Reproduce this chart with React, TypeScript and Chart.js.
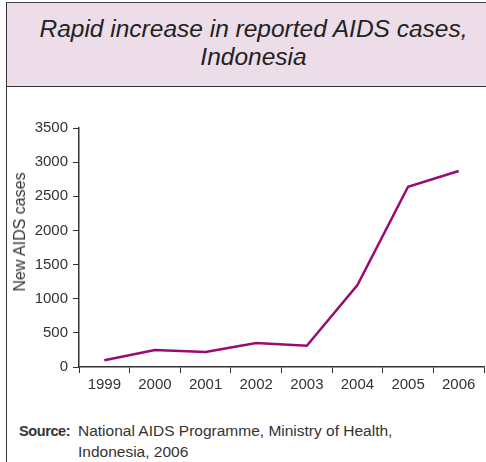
import React, { useEffect, useRef } from "react";
import { Chart, registerables } from "chart.js";

Chart.register(...registerables);

const years = ["1999", "2000", "2001", "2002", "2003", "2004", "2005", "2006"];
const newAidsCases = [100, 250, 220, 350, 310, 1200, 2640, 2870];
const yTicks = [0, 500, 1000, 1500, 2000, 2500, 3000, 3500];
const titleLines = ["Rapid increase in reported AIDS cases,", "Indonesia"];
const yAxisTitle = "New AIDS cases";
const sourceLabel = "Source:";
const sourceLines = ["National AIDS Programme, Ministry of Health,", "Indonesia, 2006"];

const FONT = "'Liberation Sans', Arial, Helvetica, sans-serif";
const NARROW = "'Liberation Sans Narrow', 'Arial Narrow', 'Liberation Sans', sans-serif";
const TEXT = "#333333";
const LINE = "#9b0a70";

export default function App() {
  const canvasRef = useRef<HTMLCanvasElement | null>(null);

  useEffect(() => {
    if (!canvasRef.current) return;
    const chart = new Chart(canvasRef.current, {
      type: "line",
      data: {
        labels: years,
        datasets: [
          {
            data: newAidsCases,
            borderColor: LINE,
            borderWidth: 2.5,
            pointRadius: 0,
            tension: 0,
            fill: false,
          },
        ],
      },
      options: {
        animation: false,
        responsive: false,
        maintainAspectRatio: false,
        layout: { padding: { top: 18, right: 2, left: 0, bottom: 0 } },
        plugins: { legend: { display: false }, tooltip: { enabled: false } },
        scales: {
          x: {
            type: "category",
            offset: true,
            grid: {
              offset: true,
              drawOnChartArea: false,
              drawTicks: true,
              tickLength: 6,
              color: TEXT,
              lineWidth: 1,
            },
            border: { display: true, color: TEXT, width: 1.5 },
            ticks: {
              color: TEXT,
              font: { family: FONT, size: 15 },
              padding: 3,
              maxRotation: 0,
              autoSkip: false,
            },
            afterFit: (axis: any) => {
              axis.height = 33;
            },
          },
          y: {
            min: 0,
            max: 3500,
            afterBuildTicks: (axis: any) => {
              axis.ticks = yTicks.map((v) => ({ value: v }));
            },
            grid: {
              drawOnChartArea: false,
              drawTicks: true,
              tickLength: 6,
              color: TEXT,
              lineWidth: 1,
            },
            border: { display: true, color: TEXT, width: 1.5 },
            ticks: {
              color: TEXT,
              font: { family: FONT, size: 15 },
              padding: 5,
              callback: (v: any) => String(v),
            },
            afterFit: (axis: any) => {
              axis.width = 72;
            },
          },
        },
      },
    });
    return () => chart.destroy();
  }, []);

  return (
    <div
      style={{
        position: "absolute",
        left: 0,
        top: 0,
        width: 486,
        height: 462,
        overflow: "hidden",
        background: "#ffffff",
        fontFamily: FONT,
      }}
    >
      <div
        style={{
          position: "absolute",
          left: 6,
          top: 2,
          width: 494,
          height: 85,
          background: "#ecdde8",
          borderTop: "1.5px solid #444",
          borderLeft: "1.5px solid #333",
          borderBottom: "1.5px solid #333",
          boxSizing: "border-box",
          display: "flex",
          flexDirection: "column",
          alignItems: "center",
          justifyContent: "center",
          fontStyle: "italic",
          fontSize: 24.5,
          lineHeight: "28px",
          color: "#222",
          paddingBottom: 4,
        }}
      >
        {titleLines.map((t, i) => (
          <div key={i}>{t}</div>
        ))}
      </div>
      <div
        style={{
          position: "absolute",
          left: 6,
          top: 87,
          width: 0,
          height: 375,
          borderLeft: "1.5px solid #333",
        }}
      />
      <canvas
        ref={canvasRef}
        width={479}
        height={290}
        style={{ position: "absolute", left: 7, top: 110, width: 479, height: 290 }}
      />
      <div
        style={{
          position: "absolute",
          left: 20,
          top: 232,
          width: 0,
          height: 0,
          overflow: "visible",
        }}
      >
        <div
          style={{
            position: "absolute",
            left: 0,
            top: 0,
            transform: "translate(-50%, -50%) rotate(-90deg)",
            whiteSpace: "nowrap",
            fontSize: 16,
            lineHeight: "18px",
            color: TEXT,
          }}
        >
          {yAxisTitle}
        </div>
      </div>
      <div
        style={{
          position: "absolute",
          left: 19,
          top: 420,
          fontFamily: NARROW,
          fontSize: 15.5,
          lineHeight: "21px",
          color: "#333",
          display: "flex",
          alignItems: "baseline",
        }}
      >
        <div style={{ fontWeight: "bold", width: 59, fontSize: 14.5, letterSpacing: -0.4 }}>
          {sourceLabel}
        </div>
        <div>
          {sourceLines.map((t, i) => (
            <div key={i}>{t}</div>
          ))}
        </div>
      </div>
    </div>
  );
}
